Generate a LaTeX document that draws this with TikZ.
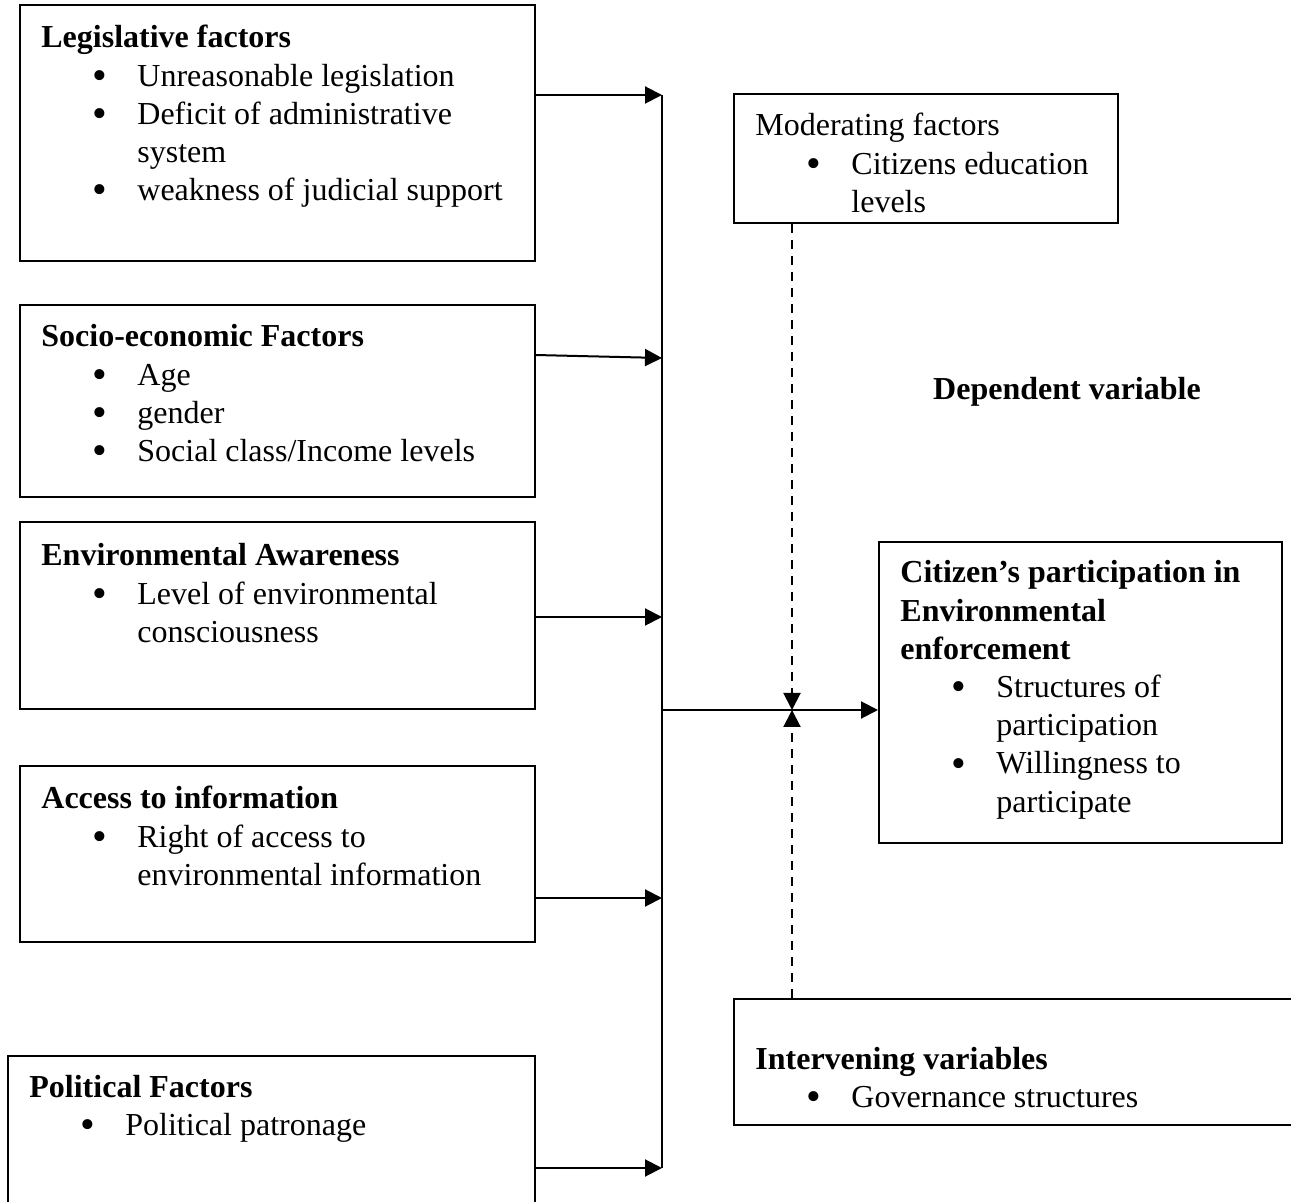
\documentclass[tikz,border=0pt]{standalone}
\usepackage{fontspec}
\setmainfont{Liberation Serif}
\usetikzlibrary{arrows.meta,fit}
\newcommand{\hd}[1]{\textbf{#1}\par}
\newcommand{\bigbul}{\smash{\raisebox{-1.6pt}{\fontsize{21pt}{21pt}\selectfont\textbullet}}}
\newcommand{\bi}[1]{{\leftskip=48pt\noindent\llap{\bigbul\hspace{15pt}}#1\par}}
\begin{document}
\begin{tikzpicture}[x=0.5pt,y=-0.5pt,
  box/.style={draw, line width=1pt, inner sep=0pt},
  txt/.style={inner sep=0pt, anchor=base west, align=left, text width=250pt,
    font=\fontsize{16pt}{19.1pt}\selectfont,
    execute at begin node={\spaceskip=0pt\xspaceskip=0pt\relax}},
  lbl/.style={inner sep=0pt, anchor=base, font=\fontsize{16pt}{19.1pt}\selectfont\bfseries},
  arr/.style={line width=1pt, -{Triangle[length=8.5pt,width=8.5pt]}},
  bus/.style={line width=1pt},
  darr/.style={line width=1pt, dash pattern=on 4.5pt off 3.5pt, -{Triangle[length=8.5pt,width=8.5pt]}}]
\useasboundingbox (0,0) rectangle (1291,1202);
\clip (0,0) rectangle (1291,1202);

% boxes
\node[box, fit={(20,5)(535,261)}] (leg) {};
\node[box, fit={(20,305)(535,497)}] (soc) {};
\node[box, fit={(20,522)(535,709)}] (env) {};
\node[box, fit={(20,766)(535,942)}] (acc) {};
\node[box, fit={(8,1056)(535,1240)}] (pol) {};
\node[box, fit={(734,94)(1118,223)}] (mod) {};
\node[box, fit={(879,542)(1282,843)}] (cit) {};
\node[box, fit={(734,999)(1330,1125)}] (int) {};

% texts
\node[txt] (tleg) at (41,48) {\hd{Legislative factors}\bi{Unreasonable legislation}\bi{Deficit of administrative\newline system}\bi{weakness of judicial support}};
\node[txt] (tsoc) at (41,347) {\hd{Socio-economic Factors}\bi{Age}\bi{gender}\bi{Social class/Income levels}};
\node[txt] (tenv) at (41,566) {\hd{Environmental Awareness}\bi{Level of environmental\newline consciousness}};
\node[txt] (tacc) at (41,809) {\hd{Access to information}\bi{Right of access to\newline environmental information}};
\node[txt] (tpol) at (29,1097) {\hd{Political Factors}\bi{Political patronage}};
\node[txt] (tmod) at (755,136) {Moderating factors\par\bi{Citizens education\newline levels}};
\node[lbl] (tdep) at (1067,400) {Dependent variable};
\node[txt] (tcit) at (900,583) {\hd{Citizen’s participation in\newline Environmental\newline enforcement}\bi{Structures of\newline participation}\bi{Willingness to\newline participate}};
\node[txt] (tint) at (755,1069) {\hd{Intervening variables}\bi{Governance structures}};

% bus coordinates
\coordinate (j1) at (662,95);
\coordinate (j2) at (662,358);
\coordinate (j3) at (662,617);
\coordinate (j4) at (662,898);
\coordinate (j5) at (662,1168);
\coordinate (jm) at (662,710);
\coordinate (cx) at (792,710);
\coordinate (s2) at (535,355);

\draw[bus] (j1) -- (j5);
\draw[arr] (leg.east |- j1) -- (j1);
\draw[arr] (s2) -- (j2);
\draw[arr] (env.east |- j3) -- (j3);
\draw[arr] (acc.east |- j4) -- (j4);
\draw[arr] (pol.east |- j5) -- (j5);
\draw[arr] (jm) -- (cit.west |- jm);
\draw[darr] (mod.south -| cx) -- (cx);
\draw[darr] (int.north -| cx) -- (cx);
\end{tikzpicture}
\end{document}
